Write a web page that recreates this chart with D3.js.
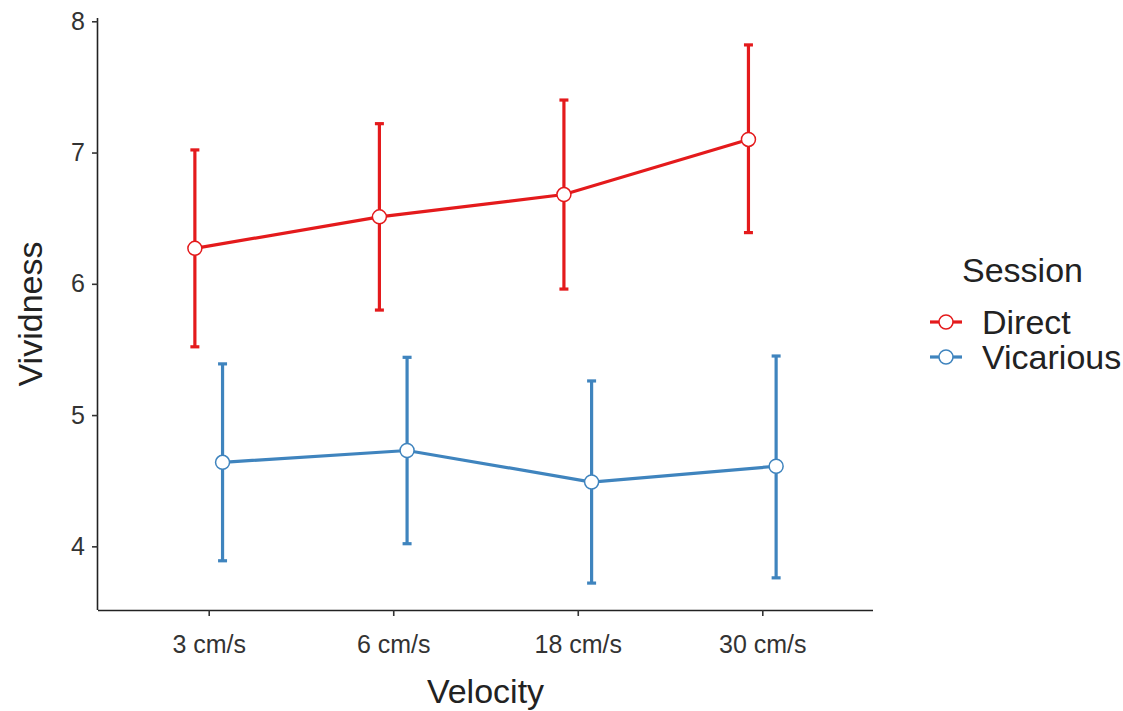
<!DOCTYPE html>
<html>
<head>
<meta charset="utf-8">
<script src="https://cdn.jsdelivr.net/npm/d3@7"></script>
<style>
  body { margin: 0; background: #fff; }
  text { font-family: "Liberation Sans", Arial, Helvetica, sans-serif; }
</style>
</head>
<body>
<div id="chart"></div>
<script>
// data
var velocities = ["3 cm/s", "6 cm/s", "18 cm/s", "30 cm/s"];
var sessions = ["Direct", "Vicarious"];
var directMean  = [6.27, 6.51, 6.68, 7.10];
var directLow   = [5.52, 5.80, 5.96, 6.39];
var directHigh  = [7.02, 7.22, 7.40, 7.82];
var vicMean     = [4.64, 4.73, 4.49, 4.61];
var vicLow      = [3.89, 4.02, 3.72, 3.76];
var vicHigh     = [5.39, 5.44, 5.26, 5.45];
var yTicks = [4, 5, 6, 7, 8];
var colors = ["#E41A1C", "#3F84BE"];

var W = 1123, H = 711;
var margin = {top: 18, right: 250, bottom: 101, left: 98},
    width = W - margin.left - margin.right,
    height = H - margin.top - margin.bottom;

var series = [
  {name: sessions[0], mean: directMean, low: directLow, high: directHigh, color: colors[0], off: -1},
  {name: sessions[1], mean: vicMean, low: vicLow, high: vicHigh, color: colors[1], off: 1}
];
series.forEach(function(s) {
  s.values = velocities.map(function(v, i) {
    return {vel: v, mean: s.mean[i], low: s.low[i], high: s.high[i]};
  });
});

var svg = d3.select("#chart").append("svg")
    .attr("width", W)
    .attr("height", H);

var g = svg.append("g")
    .attr("transform", "translate(" + margin.left + "," + margin.top + ")");

var x = d3.scalePoint()
    .domain(velocities)
    .range([0, width])
    .padding(0.6);

var allLow = d3.min(directLow.concat(vicLow)),
    allHigh = d3.max(directHigh.concat(vicHigh)),
    pad = (allHigh - allLow) * 0.05;
var y = d3.scaleLinear()
    .domain([allLow - pad, allHigh + pad])
    .range([height, 0]);

var dodge = x.step() * 0.075;
function px(d, s) { return x(d.vel) + s.off * dodge; }

// axes
var xAxis = g.append("g")
    .attr("transform", "translate(0," + height + ")")
    .call(d3.axisBottom(x).tickSize(6).tickPadding(19));
var yAxis = g.append("g")
    .call(d3.axisLeft(y).tickValues(yTicks).tickFormat(d3.format("d")).tickSize(6).tickPadding(7));

[xAxis, yAxis].forEach(function(a) {
  a.select(".domain").attr("stroke", "#222").attr("stroke-width", 1.6);
  a.selectAll(".tick line").attr("stroke", "#333").attr("stroke-width", 1.6);
  a.selectAll(".tick text")
    .attr("fill", "#333")
    .style("font-size", "25px");
});
// ggplot-style: axis lines without outer ticks
xAxis.select(".domain").attr("d", "M0,0.5H" + width);
yAxis.select(".domain").attr("d", "M-0.5,0V" + height);

// series
var line = d3.line();
series.forEach(function(s) {
  var sg = g.append("g");
  sg.append("path")
    .attr("d", line(s.values.map(function(d) { return [px(d, s), y(d.mean)]; })))
    .attr("fill", "none")
    .attr("stroke", s.color)
    .attr("stroke-width", 3.2);

  var eb = sg.selectAll(".eb").data(s.values).enter().append("g");
  eb.append("line")
    .attr("x1", function(d) { return px(d, s); })
    .attr("x2", function(d) { return px(d, s); })
    .attr("y1", function(d) { return y(d.low); })
    .attr("y2", function(d) { return y(d.high); })
    .attr("stroke", s.color).attr("stroke-width", 3.2);
  ["low", "high"].forEach(function(k) {
    eb.append("line")
      .attr("x1", function(d) { return px(d, s) - 4.5; })
      .attr("x2", function(d) { return px(d, s) + 4.5; })
      .attr("y1", function(d) { return y(d[k]); })
      .attr("y2", function(d) { return y(d[k]); })
      .attr("stroke", s.color).attr("stroke-width", 3.2);
  });

  sg.selectAll("circle").data(s.values).enter().append("circle")
    .attr("cx", function(d) { return px(d, s); })
    .attr("cy", function(d) { return y(d.mean); })
    .attr("r", 7)
    .attr("fill", "#fff")
    .attr("stroke", s.color)
    .attr("stroke-width", 1.5);
});

// axis titles
svg.append("text")
    .attr("x", margin.left + width / 2)
    .attr("y", 703)
    .attr("text-anchor", "middle")
    .attr("fill", "#222")
    .style("font-size", "34px")
    .text("Velocity");
svg.append("text")
    .attr("transform", "translate(42," + (margin.top + height / 2) + ") rotate(-90)")
    .attr("text-anchor", "middle")
    .attr("fill", "#222")
    .style("font-size", "34px")
    .text("Vividness");

// legend
var legend = svg.append("g").attr("transform", "translate(930,0)");
legend.append("text")
    .attr("x", 32).attr("y", 282)
    .attr("fill", "#222")
    .style("font-size", "34px")
    .text("Session");
series.forEach(function(s, i) {
  var ly = 322 + i * 35;
  legend.append("line")
    .attr("x1", 0).attr("x2", 32)
    .attr("y1", ly).attr("y2", ly)
    .attr("stroke", s.color).attr("stroke-width", 3.2);
  legend.append("circle")
    .attr("cx", 16).attr("cy", ly).attr("r", 7)
    .attr("fill", "#fff").attr("stroke", s.color).attr("stroke-width", 1.5);
  legend.append("text")
    .attr("x", 52).attr("y", ly + 12)
    .attr("fill", "#222")
    .style("font-size", "34px")
    .text(s.name);
});
</script>
</body>
</html>
